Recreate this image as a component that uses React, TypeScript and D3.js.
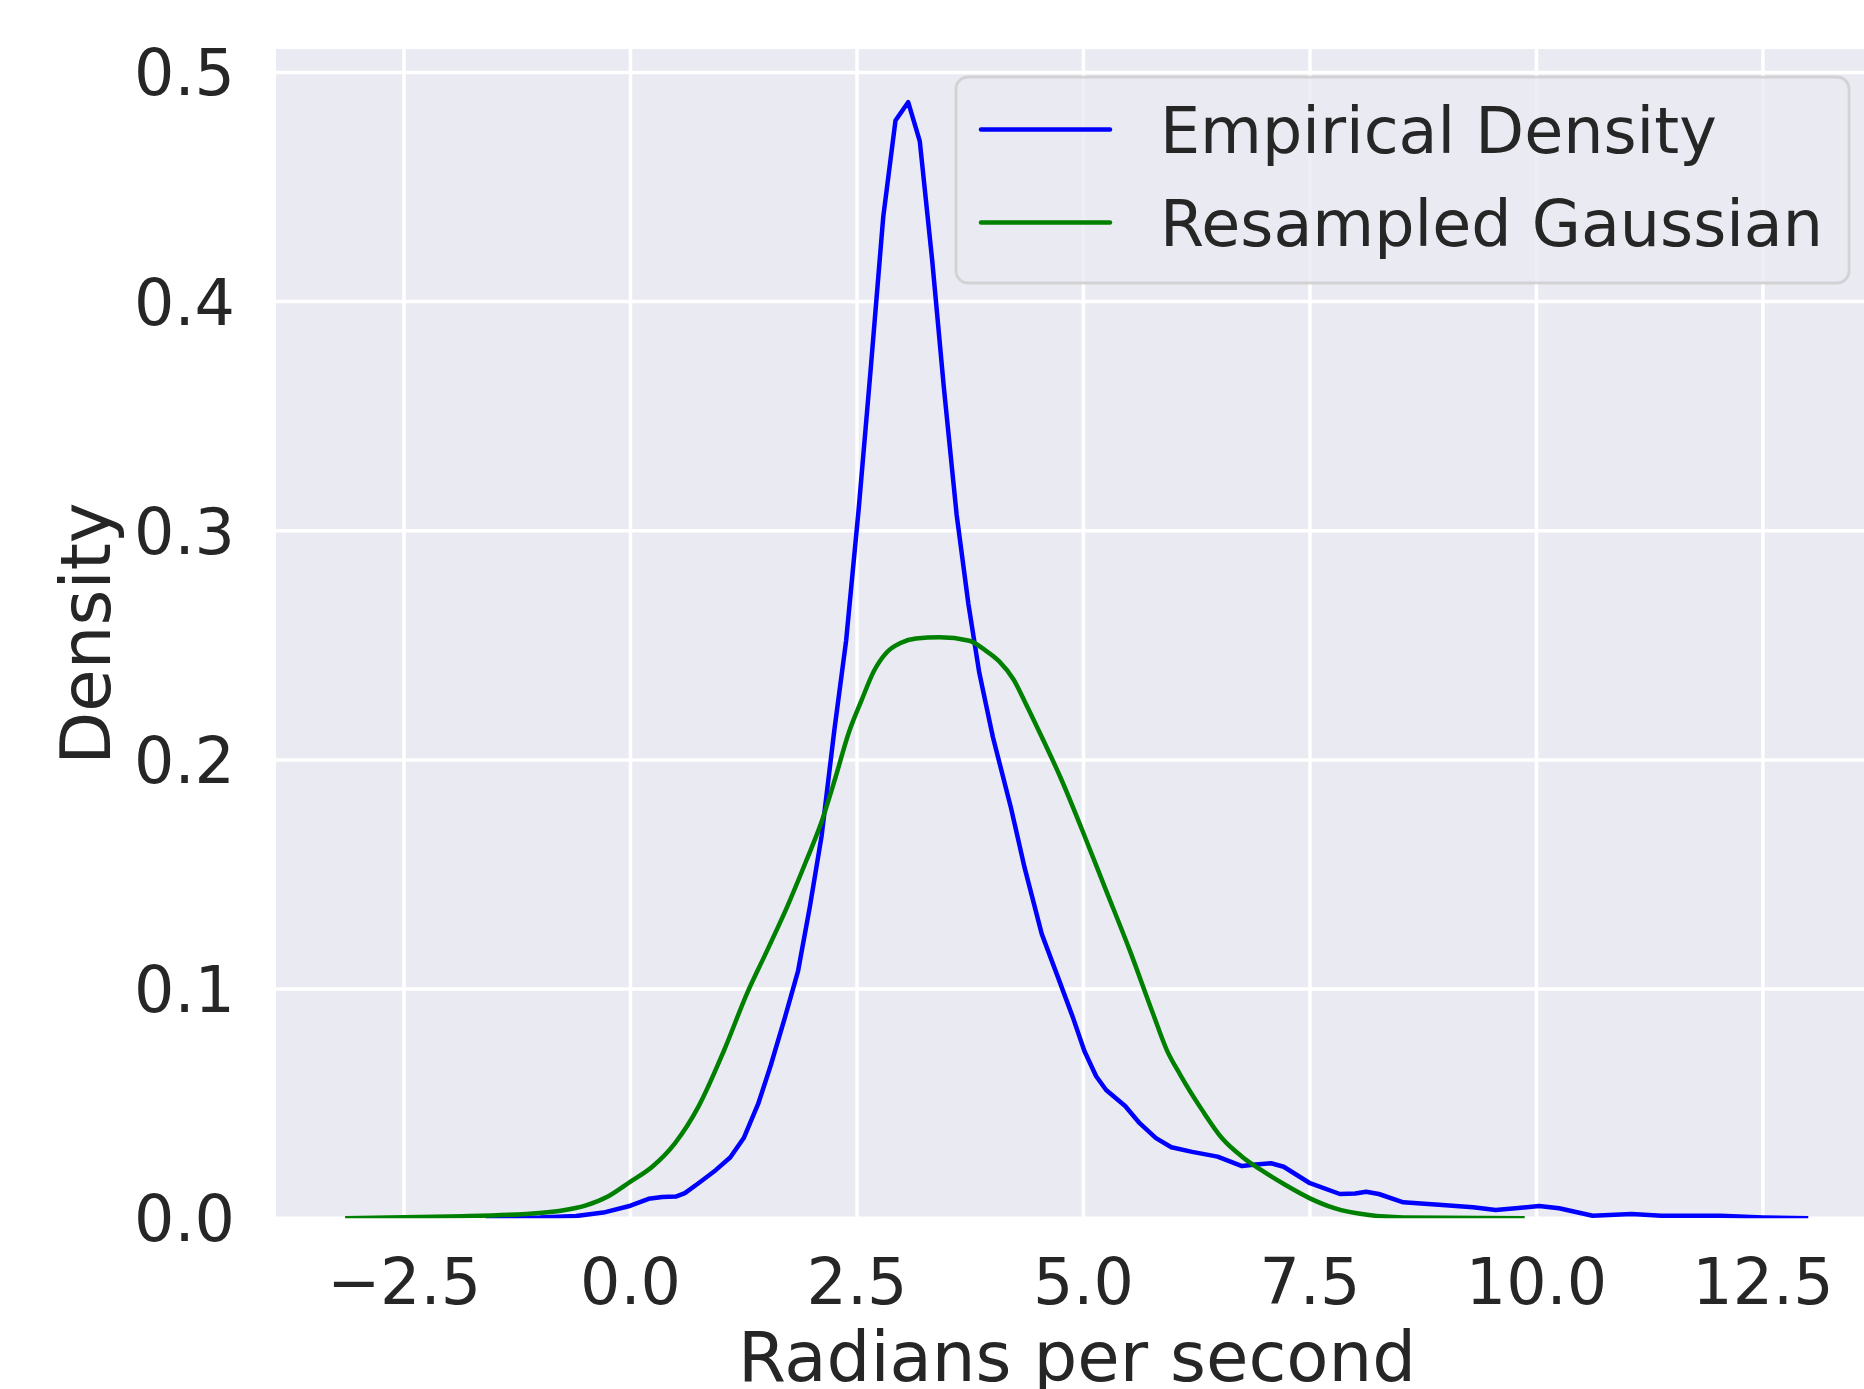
import React from "react";
import * as d3 from "d3";

const empiricalX = [-1.6, -1.0, -0.6, -0.3, 0.0, 0.2, 0.35, 0.5, 0.6, 0.75, 0.94, 1.1, 1.25, 1.41, 1.55, 1.7, 1.85, 1.98, 2.11, 2.25, 2.38, 2.52, 2.65, 2.79, 2.925, 3.065, 3.193, 3.33, 3.46, 3.6, 3.73, 3.85, 4.0, 4.2, 4.35, 4.54, 4.72, 4.88, 5.01, 5.14, 5.25, 5.46, 5.62, 5.8, 5.97, 6.2, 6.48, 6.75, 6.9, 7.07, 7.21, 7.5, 7.83, 8.0, 8.12, 8.26, 8.53, 8.96, 9.3, 9.55, 9.8, 10.03, 10.25, 10.62, 11.05, 11.38, 12.03, 12.5, 13.0];
const empiricalY = [0, 0.0003, 0.001, 0.0025, 0.0055, 0.0085, 0.0093, 0.0095, 0.011, 0.0153, 0.021, 0.0265, 0.035, 0.05, 0.067, 0.087, 0.108, 0.136, 0.167, 0.213, 0.252, 0.31, 0.37, 0.437, 0.479, 0.487, 0.47, 0.418, 0.362, 0.307, 0.268, 0.238, 0.21, 0.179, 0.153, 0.124, 0.105, 0.088, 0.073, 0.062, 0.056, 0.049, 0.0415, 0.035, 0.031, 0.029, 0.0269, 0.0228, 0.0235, 0.024, 0.0225, 0.0153, 0.0106, 0.0108, 0.0116, 0.0106, 0.007, 0.0058, 0.0048, 0.0036, 0.0045, 0.0054, 0.0044, 0.0011, 0.0019, 0.0011, 0.0011, 0.0004, 0];

const gaussianX = [-3.15, -2.0, -1.15, -0.77, -0.5, -0.25, 0.0, 0.24, 0.49, 0.75, 1.03, 1.29, 1.51, 1.73, 1.94, 2.1, 2.26, 2.41, 2.55, 2.69, 2.83, 2.98, 3.15, 3.41, 3.74, 3.91, 4.07, 4.23, 4.37, 4.54, 4.75, 4.99, 5.25, 5.51, 5.77, 5.92, 6.07, 6.31, 6.53, 6.75, 6.96, 7.23, 7.5, 7.77, 8.15, 8.53, 9.87];
const gaussianY = [0, 0.0008, 0.0019, 0.0033, 0.0055, 0.0095, 0.016, 0.0225, 0.0327, 0.0487, 0.073, 0.0985, 0.117, 0.136, 0.156, 0.172, 0.192, 0.212, 0.226, 0.239, 0.247, 0.251, 0.253, 0.2535, 0.252, 0.248, 0.243, 0.235, 0.224, 0.21, 0.192, 0.169, 0.143, 0.117, 0.089, 0.0734, 0.0625, 0.0472, 0.0349, 0.0269, 0.0211, 0.0145, 0.0087, 0.0044, 0.0014, 0.0004, 0];

const xTicks = [-2.5, 0.0, 2.5, 5.0, 7.5, 10.0, 12.5];
const yTicks = [0.0, 0.1, 0.2, 0.3, 0.4, 0.5];
const seriesNames = ["Empirical Density", "Resampled Gaussian"];
const seriesColors = ["#0000ff", "#008000"];

const W = 1864;
const H = 1389;
const left = 276;
const right = 1878;
const top = 49;
const bottom = 1218.3;
const FONT = "'DejaVu Sans', sans-serif";
const TEXT = "#262626";
const TICK_FS = 63.5;
const LABEL_FS = 69;

export default function App() {
  const x = d3.scaleLinear().domain([-3.913, 13.77]).range([left, right]);
  const y = d3.scaleLinear().domain([0, 0.5102]).range([bottom, top]);
  const empLine = d3
    .line<[number, number]>()
    .x((d) => x(d[0]))
    .y((d) => y(d[1]))
    .curve(d3.curveLinear);
  const gauLine = d3
    .line<[number, number]>()
    .x((d) => x(d[0]))
    .y((d) => y(d[1]))
    .curve(d3.curveMonotoneX);
  const emp: [number, number][] = empiricalX.map((v, i) => [v, empiricalY[i]]);
  const gau: [number, number][] = gaussianX.map((v, i) => [v, gaussianY[i]]);
  const fmt = (v: number) => (v < 0 ? "\u2212" : "") + Math.abs(v).toFixed(1);

  const legX = 956;
  const legY = 77;
  const legW = 1849 - 956;
  const legH = 283 - 77;
  const rowYs = [129.5, 222.5];

  return (
    <svg
      width={W}
      height={H}
      style={{ position: "absolute", left: 0, top: 0, display: "block", background: "#fff" }}
      fontFamily={FONT}
    >
      <defs>
        <clipPath id="plotclip">
          <rect x={left} y={top} width={right - left} height={bottom - top} />
        </clipPath>
      </defs>
      <rect x={left} y={top} width={right - left} height={bottom - top} fill="#EAEAF2" />
      <g stroke="#ffffff" strokeWidth={3.5}>
        {xTicks.map((t) => (
          <line key={"gx" + t} x1={x(t)} x2={x(t)} y1={top} y2={bottom} />
        ))}
        {yTicks.map((t) => (
          <line key={"gy" + t} x1={left} x2={right} y1={y(t)} y2={y(t)} />
        ))}
      </g>
      <g clipPath="url(#plotclip)" fill="none" strokeWidth={4.5} strokeLinejoin="round">
        <path d={empLine(emp) || ""} stroke={seriesColors[0]} />
        <path d={gauLine(gau) || ""} stroke={seriesColors[1]} />
      </g>
      <g fill={TEXT} fontSize={TICK_FS}>
        {yTicks.map((t) => (
          <text key={"ty" + t} x={235} y={y(t) + 23} textAnchor="end">
            {fmt(t)}
          </text>
        ))}
        {xTicks.map((t) => (
          <text key={"tx" + t} x={x(t)} y={1304} textAnchor="middle">
            {fmt(t)}
          </text>
        ))}
      </g>
      <text x={(left + right) / 2} y={1381} textAnchor="middle" fontSize={LABEL_FS} fill={TEXT}>
        Radians per second
      </text>
      <text
        transform={`translate(110, ${(top + bottom) / 2}) rotate(-90)`}
        textAnchor="middle"
        fontSize={LABEL_FS}
        fill={TEXT}
      >
        Density
      </text>
      <rect
        x={legX}
        y={legY}
        width={legW}
        height={legH}
        rx={12}
        ry={12}
        fill="#EAEAF2"
        fillOpacity={0.8}
        stroke="#cccccc"
        strokeOpacity={0.8}
        strokeWidth={2.8}
      />
      {seriesNames.map((name, i) => (
        <g key={name}>
          <line
            x1={981}
            x2={1110}
            y1={rowYs[i]}
            y2={rowYs[i]}
            stroke={seriesColors[i]}
            strokeWidth={4.5}
            strokeLinecap="round"
          />
          <text x={1160} y={rowYs[i] + 23.5} fontSize={TICK_FS} fill={TEXT}>
            {name}
          </text>
        </g>
      ))}
    </svg>
  );
}
